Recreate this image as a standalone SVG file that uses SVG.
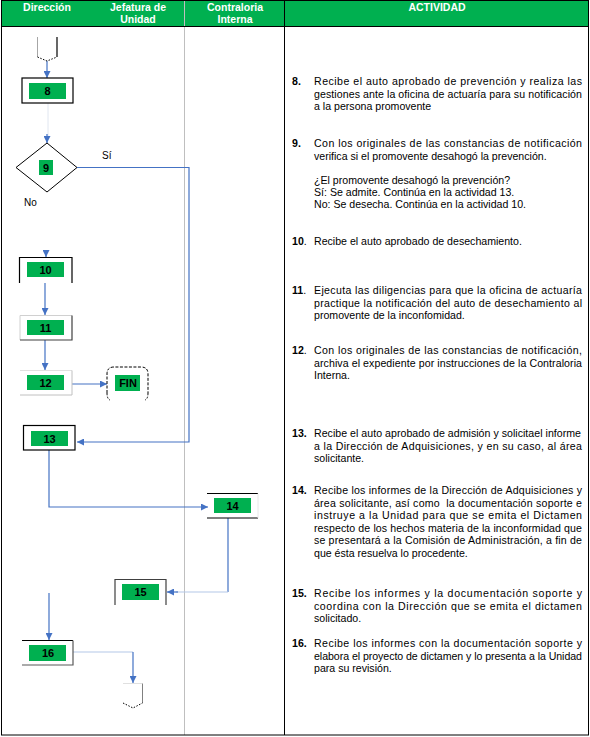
<svg xmlns="http://www.w3.org/2000/svg" width="590" height="737" viewBox="0 0 590 737">
<style>
.hdr{font-family:"Liberation Sans",Arial,sans-serif;font-size:10.5px;font-weight:bold;fill:#fff;text-anchor:middle}
.num{font-family:"Liberation Sans",Arial,sans-serif;font-size:11px;font-weight:bold;fill:#000;text-anchor:middle}
.t{font-family:"Liberation Sans",Arial,sans-serif;font-size:10.6px;fill:#000}
.b{font-weight:bold}
.lbl{font-family:"Liberation Sans",Arial,sans-serif;font-size:10px;fill:#000}
.g{fill:#00B050}
.c{fill:none;stroke:#4472C4;stroke-width:1.2}
.cl{fill:none;stroke:#B4C7E7;stroke-width:1.2}
.bk{fill:none;stroke:#000;stroke-width:1.2}
.gy{fill:none;stroke:#A6A6A6;stroke-width:1}
.dg{fill:none;stroke:#595959;stroke-width:1.2}
</style>
<defs>
<marker id="ah" viewBox="0 0 10 10" refX="10" refY="5" markerWidth="7" markerHeight="7" orient="auto" markerUnits="userSpaceOnUse">
<path d="M0,0 L10,5 L0,10 z" fill="#4472C4"/>
</marker>
</defs>
<rect x="0" y="0" width="590" height="737" fill="#fff"/>
<!-- header -->
<g id="header">
<rect x="1" y="1" width="588" height="25" fill="#00B050"/>
<text class="hdr" x="47" y="11">Dirección</text>
<text class="hdr" x="138" y="11">Jefatura de</text>
<text class="hdr" x="138" y="23">Unidad</text>
<text class="hdr" x="235" y="11">Contraloria</text>
<text class="hdr" x="235" y="23">Interna</text>
<text class="hdr" x="437" y="11">ACTIVIDAD</text>
</g>
<g id="grid">
<line x1="184.5" y1="1" x2="184.5" y2="735" stroke="#BFBFBF" stroke-width="1"/>
<line x1="284.5" y1="1" x2="284.5" y2="735" stroke="#000" stroke-width="1"/>
<line x1="1" y1="26.5" x2="589" y2="26.5" stroke="#000" stroke-width="1"/>
<rect x="1.5" y="0.5" width="587" height="734.5" fill="none" stroke="#000" stroke-width="1"/>
</g>
<!-- connectors -->
<g id="connectors">
<line class="c" x1="47" y1="61" x2="47" y2="78" marker-end="url(#ah)"/>
<line x1="48" y1="103" x2="48" y2="136" stroke="#E0E6F0" stroke-width="1"/>
<line class="c" x1="47" y1="134" x2="47" y2="143" marker-end="url(#ah)"/>
<polyline class="c" points="77,167.5 189,167.5 189,442 77,442" marker-end="url(#ah)"/>
<line class="c" x1="46" y1="250" x2="46" y2="257" marker-end="url(#ah)"/>
<line class="c" x1="45" y1="283" x2="45" y2="315" marker-end="url(#ah)"/>
<line class="c" x1="45" y1="340" x2="45" y2="370" marker-end="url(#ah)"/>
<line class="c" x1="72" y1="384" x2="107" y2="384" marker-end="url(#ah)"/>
<polyline class="c" points="49,450 49,507 208,507" marker-end="url(#ah)"/>
<line class="c" x1="228" y1="518" x2="228" y2="592"/>
<line class="cl" x1="228" y1="592" x2="176" y2="592"/>
<line class="c" x1="178" y1="592" x2="167" y2="592" marker-end="url(#ah)"/>
<line class="c" x1="49" y1="593" x2="49" y2="640" marker-end="url(#ah)"/>
<line class="cl" x1="73" y1="652" x2="133" y2="652"/>
<line class="c" x1="133" y1="652" x2="133" y2="683" marker-end="url(#ah)"/>
</g>
<!-- nodes -->
<g id="offpage-top">
<line x1="37.5" y1="37" x2="37.5" y2="57" stroke="#A6A6A6" stroke-width="1"/>
<line x1="57" y1="37" x2="57" y2="57" stroke="#000" stroke-width="1.2"/>
<polyline points="37.5,57 47,61 57,57" fill="none" stroke="#000" stroke-width="1" stroke-dasharray="1.5,1.5"/>
</g>
<g id="n8">
<rect class="bk" x="22" y="78" width="51" height="25"/>
<rect class="g" x="29" y="83" width="37" height="16"/>
<text class="num" x="47.5" y="95">8</text>
</g>
<g id="n9">
<polygon points="47,143 77,167.5 47,192 16,167.5" fill="#fff" stroke="#000" stroke-width="1"/>
<rect class="g" x="39" y="160" width="14" height="15"/>
<text class="num" x="46" y="171.5">9</text>
<text class="lbl" x="102" y="159">Sí</text>
<text class="lbl" x="24" y="206">No</text>
</g>
<g id="n10">
<polyline class="bk" points="19.5,283 19.5,257.5 72,257.5 72,283"/>
<rect class="g" x="27" y="262" width="37" height="15"/>
<text class="num" x="45.5" y="273.5">10</text>
</g>
<g id="n11">
<polyline points="20,340 20,315.5 72,315.5" fill="none" stroke="#D0D0D0" stroke-width="1"/>
<polyline points="72,315.5 72,340 20,340" fill="none" stroke="#404040" stroke-width="1.2"/>
<rect class="g" x="27" y="320" width="37" height="15"/>
<text class="num" x="45.5" y="331.5">11</text>
</g>
<g id="n12">
<polyline points="20,370.5 72,370.5" fill="none" stroke="#E0E0E0" stroke-width="1"/>
<polyline points="72,370.5 72,395 20,395" fill="none" stroke="#C0C0C0" stroke-width="1"/>
<rect class="g" x="27" y="375" width="37" height="15"/>
<text class="num" x="45.5" y="386.5">12</text>
</g>
<g id="fin">
<path d="M107,393 V374 Q107,367 114,367 H141 Q148,367 148,374 V393" fill="none" stroke="#000" stroke-width="1" stroke-dasharray="3,1.5"/>
<path d="M107,393 Q107,399 110,400 M148,393 Q148,399 145,400" fill="none" stroke="#000" stroke-width="1" stroke-dasharray="2,1.5"/>
<rect class="g" x="115" y="375" width="25" height="16"/>
<text class="num" x="128" y="387">FIN</text>
</g>
<g id="n13">
<rect class="bk" x="23.5" y="425.5" width="51.5" height="24.5"/>
<rect class="g" x="31" y="431" width="37" height="15"/>
<text class="num" x="49.5" y="442.5">13</text>
</g>
<g id="n14">
<line x1="207" y1="493.5" x2="258" y2="493.5" stroke="#000" stroke-width="1.2"/>
<line x1="207" y1="518" x2="258" y2="518" stroke="#000" stroke-width="1.2"/>
<line x1="258" y1="493.5" x2="258" y2="518" stroke="#E8E8E8" stroke-width="1"/>
<rect class="g" x="214" y="498" width="37" height="15"/>
<text class="num" x="232.5" y="509.5">14</text>
</g>
<g id="n15">
<polyline points="115,605 115,579.5 166,579.5 166,605" fill="none" stroke="#404040" stroke-width="1.2"/>
<rect class="g" x="122" y="584" width="37" height="16"/>
<text class="num" x="140.5" y="596">15</text>
</g>
<g id="n16">
<line x1="22" y1="640.5" x2="73" y2="640.5" stroke="#000" stroke-width="1.2"/>
<polyline points="73,640.5 73,665 22,665" fill="none" stroke="#595959" stroke-width="1.2"/>
<rect class="g" x="29" y="645" width="37" height="16"/>
<text class="num" x="48" y="657">16</text>
</g>
<g id="offpage-bottom">
<line x1="123" y1="683.5" x2="142" y2="683.5" stroke="#E0E0E0" stroke-width="1"/>
<line x1="142.5" y1="683.5" x2="142.5" y2="703" stroke="#808080" stroke-width="1"/>
<polyline points="123,703 133,708 142.5,703" fill="none" stroke="#000" stroke-width="1" stroke-dasharray="1.5,1.5"/>
</g>
<!-- activity texts -->
<g id="activities">
<text class="t b" x="292" y="85">8.</text>
<text class="t" x="314" y="85" textLength="268" lengthAdjust="spacing">Recibe el auto aprobado de prevención y realiza las</text>
<text class="t" x="314" y="97.5" textLength="268" lengthAdjust="spacing">gestiones ante la oficina de actuaría para su notificación</text>
<text class="t" x="314" y="110">a la persona promovente</text>

<text class="t b" x="292" y="147">9.</text>
<text class="t" x="314" y="147" textLength="268" lengthAdjust="spacing">Con los originales de las constancias de notificación</text>
<text class="t" x="314" y="159.5">verifica si el promovente desahogó la prevención.</text>
<text class="t" x="314" y="184">¿El promovente desahogó la prevención?</text>
<text class="t" x="314" y="196">Sí: Se admite. Continúa en la actividad 13.</text>
<text class="t" x="314" y="208">No: Se desecha. Continúa en la actividad 10.</text>

<text class="t" x="292" y="245"><tspan class="b">10</tspan>.</text>
<text class="t" x="314" y="245">Recibe el auto aprobado de desechamiento.</text>

<text class="t" x="292" y="294"><tspan class="b">11</tspan>.</text>
<text class="t" x="314" y="294" textLength="268" lengthAdjust="spacing">Ejecuta las diligencias para que la oficina de actuaría</text>
<text class="t" x="314" y="306.5" textLength="268" lengthAdjust="spacing">practique la notificación del auto de desechamiento al</text>
<text class="t" x="314" y="319">promovente de la inconfomidad.</text>

<text class="t" x="292" y="354"><tspan class="b">12</tspan>.</text>
<text class="t" x="314" y="354" textLength="268" lengthAdjust="spacing">Con los originales de las constancias de notificación,</text>
<text class="t" x="314" y="366.5" textLength="268" lengthAdjust="spacing">archiva el expediente por instrucciones de la Contraloria</text>
<text class="t" x="314" y="379">Interna.</text>

<text class="t b" x="292" y="437">13.</text>
<text class="t" x="314" y="437" textLength="267" lengthAdjust="spacing">Recibe el auto aprobado de admisión y solicitael informe</text>
<text class="t" x="314" y="449.5" textLength="268" lengthAdjust="spacing">a la Dirección de Adquisiciones, y en su caso, al área</text>
<text class="t" x="314" y="462">solicitante.</text>

<text class="t b" x="292" y="494">14.</text>
<text class="t" x="314" y="494" textLength="268" lengthAdjust="spacing">Recibe los informes de la Dirección de Adquisiciones y</text>
<text class="t" x="314" y="506.5" textLength="268" lengthAdjust="spacing" xml:space="preserve">área solicitante, así como  la documentación soporte e</text>
<text class="t" x="314" y="519" textLength="268" lengthAdjust="spacing">instruye a la Unidad para que se emita el Dictamen</text>
<text class="t" x="314" y="531.5" textLength="268" lengthAdjust="spacing">respecto de los hechos materia de la inconformidad que</text>
<text class="t" x="314" y="544" textLength="268" lengthAdjust="spacing">se presentará a la Comisión de Administración, a fin de</text>
<text class="t" x="314" y="556.5">que ésta resuelva lo procedente.</text>

<text class="t b" x="292" y="597">15.</text>
<text class="t" x="314" y="597" textLength="268" lengthAdjust="spacing">Recibe los informes y la documentación soporte y</text>
<text class="t" x="314" y="609.5" textLength="268" lengthAdjust="spacing">coordina con la Dirección que se emita el dictamen</text>
<text class="t" x="314" y="622">solicitado.</text>

<text class="t b" x="292" y="647">16.</text>
<text class="t" x="314" y="647" textLength="268" lengthAdjust="spacing">Recibe los informes con la documentación soporte y</text>
<text class="t" x="314" y="659.5" textLength="268" lengthAdjust="spacing">elabora el proyecto de dictamen y lo presenta a la Unidad</text>
<text class="t" x="314" y="672">para su revisión.</text>
</g>
</svg>
